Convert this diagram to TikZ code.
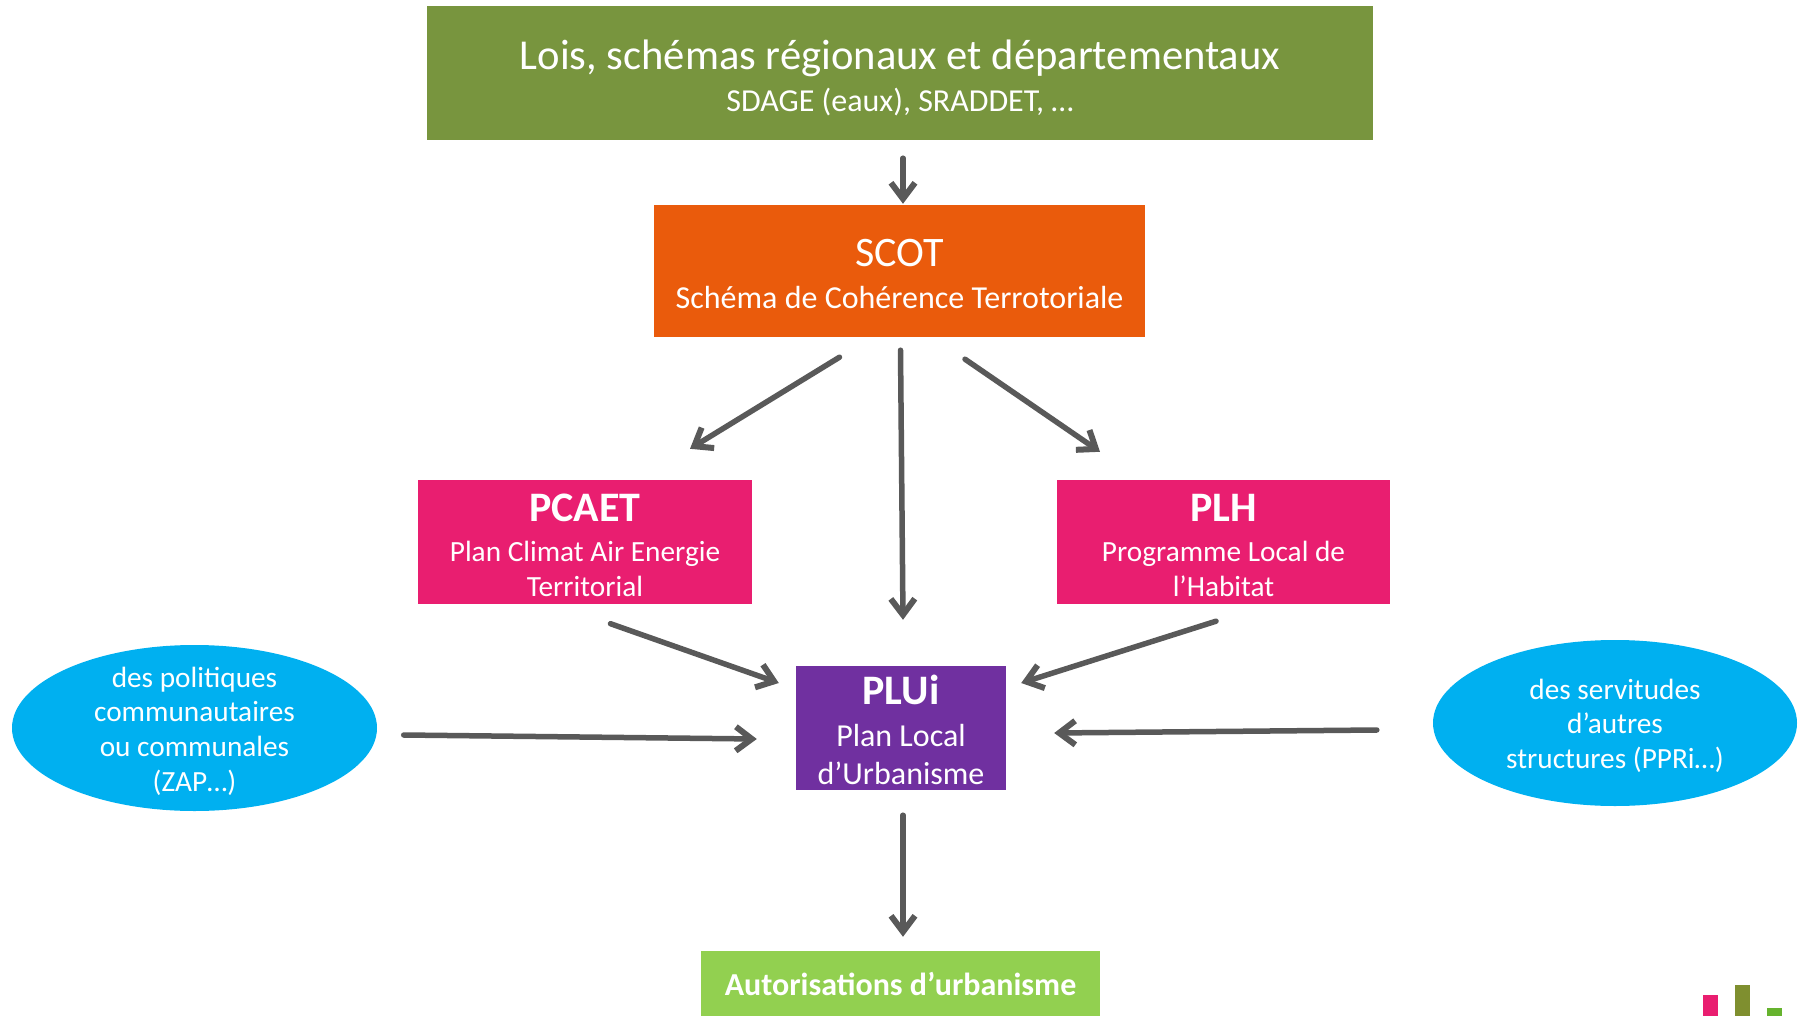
\documentclass[tikz,border=0pt]{standalone}
\usepackage{fontspec}
\setmainfont{Carlito}
\usetikzlibrary{arrows.meta,shapes.geometric}
\definecolor{cOlive}{HTML}{78953E}
\definecolor{cOrange}{HTML}{EA5B0C}
\definecolor{cPink}{HTML}{E91E70}
\definecolor{cPurple}{HTML}{7030A0}
\definecolor{cBlue}{HTML}{00B0F0}
\definecolor{cGreen}{HTML}{92D050}
\definecolor{cArrow}{HTML}{595959}
\definecolor{cLogoOlive}{HTML}{7F8F2F}
\definecolor{cLogoGreen}{HTML}{66B32E}
\newcommand{\ftitle}{\fontsize{42.6}{46}\selectfont}
\newcommand{\fhead}{\fontsize{42}{46}\selectfont}
\newcommand{\fhd}{\fontsize{42}{46}\selectfont\bfseries}
\newcommand{\fsub}{\fontsize{32}{34.6}\selectfont}
\newcommand{\fbody}{\fontsize{29.3}{34.6}\selectfont}
\tikzset{
  x=1pt,y=-1pt,
  boxnode/.style={rectangle,inner sep=0pt},
  ellnode/.style={ellipse,inner sep=0pt,fill=cBlue},
  txt/.style={text=white,align=center,inner sep=0pt},
  arr/.style={draw=cArrow,line width=5.5pt,line cap=round,-{Straight Barb[length=16pt,width=24pt,line width=6pt]}},
  bar/.style={rectangle,inner sep=0pt,minimum width=15pt}
}
\begin{document}
\begin{tikzpicture}
\useasboundingbox (0,0) rectangle (1806,1016);
\node[boxnode,fill=cOlive,minimum width=946pt,minimum height=134pt,label={[txt,font=\fsub,yshift=-4.5pt]center:{{\ftitle Lois, schémas régionaux et départementaux}\\[7.5pt]SDAGE (eaux), SRADDET, …}}] (top) at (900,73) {};
\node[boxnode,fill=cOrange,minimum width=491pt,minimum height=132pt,label={[txt,font=\fsub,yshift=-3pt]center:{{\fhead SCOT}\\[7.7pt]Schéma de Cohérence Terrotoriale}}] (scot) at (899.5,271) {};
\node[boxnode,fill=cPink,minimum width=334pt,minimum height=124pt,label={[txt,font=\fbody,yshift=-3.5pt]center:{{\fhd PCAET}\\[5.4pt]Plan Climat Air Energie\\Territorial}}] (pcaet) at (585,542) {};
\node[boxnode,fill=cPink,minimum width=333pt,minimum height=124pt,label={[txt,font=\fbody,yshift=-3.5pt]center:{{\fhd PLH}\\[5.4pt]Programme Local de\\l’Habitat}}] (plh) at (1223.5,542) {};
\node[boxnode,fill=cPurple,minimum width=210pt,minimum height=124pt,label={[txt,font=\fsub,yshift=-2pt]center:{{\fhd PLUi}\\[7.5pt]Plan Local\\[3pt]d’Urbanisme}}] (plui) at (901,728) {};
\node[boxnode,fill=cGreen,minimum width=399pt,minimum height=65pt,label={[txt,font=\fsub\bfseries]center:{Autorisations d’urbanisme}}] (auto) at (900.5,983.5) {};
\node[ellnode,minimum width=365pt,minimum height=166pt,label={[txt,font=\fbody,yshift=-3pt]center:{des politiques\\communautaires\\ou communales\\(ZAP…)}}] (eleft) at (194.5,728) {};
\node[ellnode,minimum width=364pt,minimum height=166pt,label={[txt,font=\fbody,yshift=-2.8pt]center:{des servitudes\\d’autres\\structures (PPRi…)}}] (eright) at (1615,723) {};
\node[bar,fill=cPink,minimum height=21pt] (logoa) at (1710.5,1005.5) {};
\node[bar,fill=cLogoOlive,minimum height=31pt] (logob) at (1742.5,1000.5) {};
\node[bar,fill=cLogoGreen,minimum height=8pt] (logoc) at (1774.5,1012) {};
\draw[arr] ([shift={(3,18)}]top.south) -- ([shift={(3.5,-1)}]scot.north);
\draw[arr] ([shift={(-60,20)}]scot.south) -- ([shift={(105,-31)}]pcaet.north);
\draw[arr] ([shift={(1,13)}]scot.south) -- ([shift={(2,-46)}]plui.north);
\draw[arr] ([shift={(65.5,22)}]scot.south) -- ([shift={(-123.5,-28)}]plh.north);
\draw[arr] ([shift={(25.5,19.5)}]pcaet.south) -- ([shift={(-17,-45)}]plui.west);
\draw[arr] ([shift={(-7.5,17)}]plh.south) -- ([shift={(15,-45)}]plui.east);
\draw[arr] ([shift={(26.5,7)}]eleft.east) -- ([shift={(-39,11)}]plui.west);
\draw[arr] ([shift={(-56,7)}]eright.west) -- ([shift={(48,5)}]plui.east);
\draw[arr] ([shift={(2,25)}]plui.south) -- ([shift={(2.5,-14)}]auto.north);
\end{tikzpicture}
\end{document}
